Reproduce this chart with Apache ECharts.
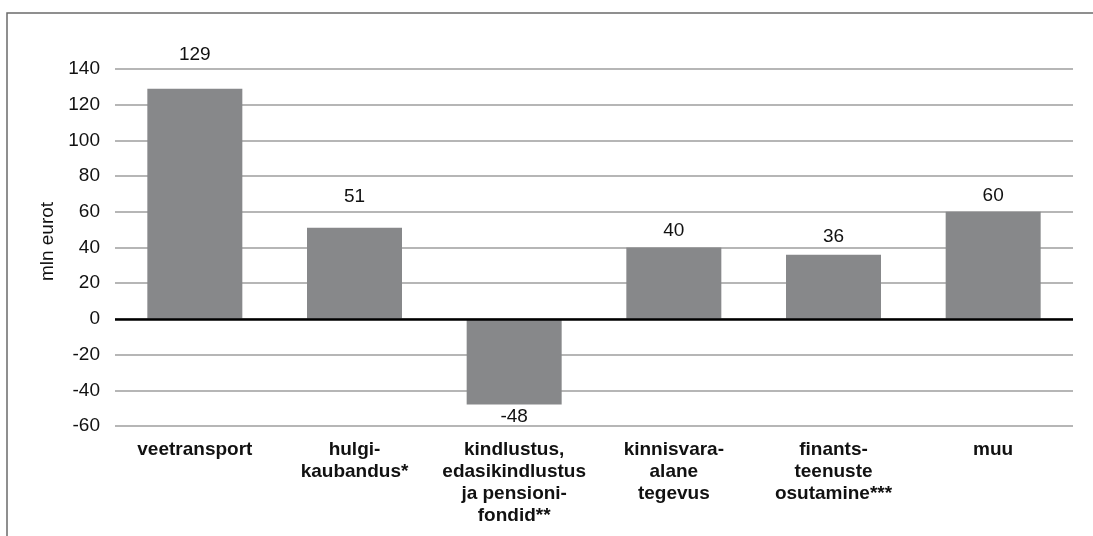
<!DOCTYPE html>
<html>
<head>
<meta charset="utf-8">
<script src="https://cdn.jsdelivr.net/npm/echarts@6/dist/echarts.min.js"></script>
<style>
  html, body { margin: 0; padding: 0; background: #fff; }
  #chart { width: 1093px; height: 536px; }
</style>
</head>
<body>
<div id="chart"></div>
<script>
// andmed
var categories = [
  'veetransport',
  'hulgi-\nkaubandus*',
  'kindlustus,\nedasikindlustus\nja pensioni-\nfondid**',
  'kinnisvara-\nalane\ntegevus',
  'finants-\nteenuste\nosutamine***',
  'muu'
];
var values = [129, 51, -48, 40, 36, 60];
// silditeksti kaugus tulbast (käsitsi paigutatud nagu originaalis)
var labelGap = [24, 22, 3, 7, 8, 7];

var chart = echarts.init(document.getElementById('chart'));

var font = "'Liberation Sans', Arial, Helvetica, sans-serif";

var barData = values.map(function (v, i) {
  return {
    value: v,
    label: {
      position: v < 0 ? 'bottom' : 'top',
      distance: labelGap[i]
    }
  };
});

var option = {
  animation: false,
  textStyle: { fontFamily: font },
  graphic: [{
    type: 'rect',
    shape: { x: 7, y: 13, width: 1200, height: 700 },
    style: { fill: 'none', stroke: '#6b6b6b', lineWidth: 1.5 },
    silent: true
  }],
  grid: { left: 115, right: 20, top: 69, bottom: 110 },
  xAxis: {
    type: 'category',
    data: categories,
    axisLine: { show: false },
    axisTick: { show: false },
    axisLabel: {
      interval: 0,
      margin: 13,
      color: '#111',
      fontSize: 19,
      fontWeight: 'bold',
      lineHeight: 22,
      fontFamily: font
    }
  },
  yAxis: {
    type: 'value',
    min: -60,
    max: 140,
    interval: 20,
    name: 'mln eurot',
    nameLocation: 'middle',
    nameGap: 57,
    nameTextStyle: { color: '#111', fontSize: 19, fontFamily: font, padding: [0, 0, 0, 12] },
    axisLine: { show: false },
    axisTick: { show: false },
    axisLabel: { color: '#111', fontSize: 19, margin: 15, fontFamily: font },
    splitLine: { lineStyle: { color: '#9e9e9e', width: 1.5 } }
  },
  series: [{
    type: 'bar',
    data: barData,
    barWidth: '59.5%',
    itemStyle: { color: '#87888a' },
    label: {
      show: true,
      color: '#111',
      fontSize: 19,
      fontFamily: font
    },
    markLine: {
      silent: true,
      symbol: 'none',
      label: { show: false },
      lineStyle: { color: '#000', width: 2.5, type: 'solid' },
      data: [{ yAxis: 0 }]
    }
  }]
};
chart.setOption(option);
</script>
</body>
</html>
